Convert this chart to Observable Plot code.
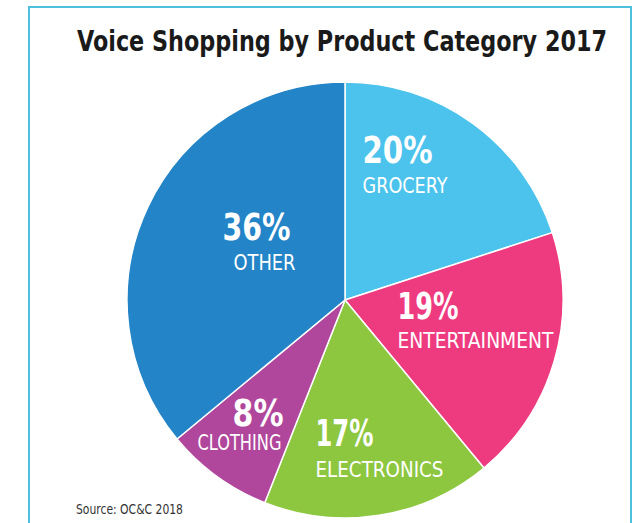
<!DOCTYPE html>
<html>
<head>
<meta charset="utf-8">
<script src="https://cdn.jsdelivr.net/npm/d3@7"></script>
<script src="https://cdn.jsdelivr.net/npm/@observablehq/plot@0.6"></script>
<style>
  html, body { margin: 0; padding: 0; background: #fff; }
  #wrap { position: relative; width: 639px; height: 523px; overflow: hidden; background: #fff; }
  #frame { position: absolute; left: 28px; top: 6px; width: 604px; height: 540px; border: 2px solid #4FC0DD; box-sizing: border-box; }
  .htext { position: absolute; font-family: "DejaVu Sans Condensed", "DejaVu Sans", sans-serif; white-space: nowrap; line-height: 1; transform-origin: 0 0; }
  #title { left: 77px; top: 27px; font-weight: bold; font-size: 29px; color: #1a1a1a; }
  #source { left: 76px; top: 503px; font-size: 13.5px; color: #333; }
  #chart { position: absolute; left: 0; top: 0; }
</style>
</head>
<body>
<div id="wrap">
  <div id="frame"></div>
  <div id="chart"></div>
  <div id="title" class="htext">Voice Shopping by Product Category 2017</div>
  <div id="source" class="htext">Source: OC&amp;C 2018</div>
</div>
<script>
// ---- data ----
const categories = ["GROCERY", "ENTERTAINMENT", "ELECTRONICS", "CLOTHING", "OTHER"];
const shares = [20, 19, 17, 8, 36];
const colors = ["#4CC3EC", "#EE3A7F", "#8DC63F", "#B0479C", "#2384C7"];

// ---- label layout (pixel offsets from pie centre, radius 218; widths in px) ----
const R_PX = 218;
const labelLayout = [
  {pct: [17, -138], name: [17, -108], anchor: "start",  pctW: 70, nameW: 85},
  {pct: [52, 18],   name: [52, 47],   anchor: "start",  pctW: 61, nameW: 156},
  {pct: [-30, 145], name: [-30, 176], anchor: "start",  pctW: 58, nameW: 128},
  {pct: [-62, 125], name: [-64, 149], anchor: "end",    pctW: 51, nameW: 84},
  {pct: [-89, -61], name: [-81, -31], anchor: "middle", pctW: 68, nameW: 62}
];

const slices = d3.pie().sort(null).value(d => d.share)(
  categories.map((c, i) => ({category: c, share: shares[i], color: colors[i]}))
);

const pctLabels = categories.map((c, i) => ({
  text: shares[i] + "%",
  x: labelLayout[i].pct[0] / R_PX,
  y: -labelLayout[i].pct[1] / R_PX,
  anchor: labelLayout[i].anchor,
  w: labelLayout[i].pctW
}));
const nameLabels = categories.map((c, i) => ({
  text: c,
  x: labelLayout[i].name[0] / R_PX,
  y: -labelLayout[i].name[1] / R_PX,
  anchor: labelLayout[i].anchor,
  w: labelLayout[i].nameW
}));
const widthByText = new Map([...pctLabels, ...nameLabels].map(d => [d.text, d.w]));

const FONT = "DejaVu Sans Condensed, DejaVu Sans, sans-serif";

function pieMark(index, scales) {
  const cx = scales.x(0), cy = scales.y(0);
  const r = scales.x(1) - scales.x(0);
  const arc = d3.arc().innerRadius(0).outerRadius(r);
  const g = d3.create("svg:g").attr("transform", `translate(${cx},${cy})`);
  g.selectAll("path")
    .data(slices)
    .join("path")
    .attr("d", arc)
    .attr("fill", d => d.data.color)
    .attr("stroke", "#fff")
    .attr("stroke-width", 1.5)
    .attr("stroke-linejoin", "round");
  return g.node();
}

const textMarks = [];
for (const anchor of ["start", "middle", "end"]) {
  textMarks.push(Plot.text(pctLabels.filter(d => d.anchor === anchor), {
    x: "x", y: "y", text: "text", textAnchor: anchor, lineAnchor: "bottom",
    fill: "#fff", fontSize: 37, fontWeight: "bold", fontFamily: FONT
  }));
  textMarks.push(Plot.text(nameLabels.filter(d => d.anchor === anchor), {
    x: "x", y: "y", text: "text", textAnchor: anchor, lineAnchor: "bottom",
    fill: "#fff", fontSize: 22, fontFamily: FONT
  }));
}

const chart = Plot.plot({
  width: 639,
  height: 523,
  marginLeft: 127,
  marginRight: 76,
  marginTop: 82,
  marginBottom: 5,
  style: {background: "transparent", overflow: "visible"},
  x: {domain: [-1, 1], axis: null},
  y: {domain: [-1, 1], axis: null},
  marks: [pieMark, ...textMarks]
});
document.getElementById("chart").appendChild(chart);

// narrow the condensed glyphs to the reference's text widths
chart.querySelectorAll("text").forEach(t => {
  const w = widthByText.get(t.textContent);
  if (w) {
    t.setAttribute("textLength", w);
    t.setAttribute("lengthAdjust", "spacingAndGlyphs");
  }
});
function fitWidth(id, w) {
  const el = document.getElementById(id);
  const nat = el.getBoundingClientRect().width;
  el.style.transform = `scaleX(${w / nat})`;
}
fitWidth("title", 530);
fitWidth("source", 107);
</script>
</body>
</html>
